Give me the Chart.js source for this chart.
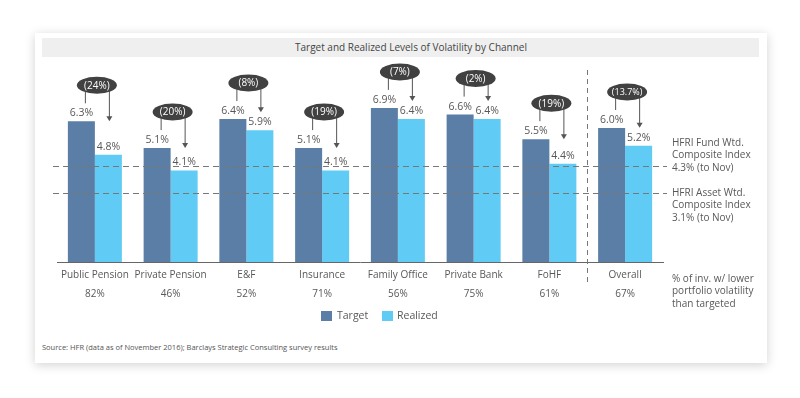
<!DOCTYPE html>
<html><head><meta charset="utf-8">
<script src="https://cdn.jsdelivr.net/npm/chart.js@4.4.1/dist/chart.umd.min.js"></script>
<style>
html,body{margin:0;padding:0;background:#fff;width:800px;height:398px;overflow:hidden;font-family:"Open Sans",sans-serif;}
#card{position:absolute;left:35px;top:33px;width:732px;height:330px;background:#fff;box-shadow:0 2px 10px rgba(0,0,0,0.18);}
#tbar{position:absolute;left:42px;top:38px;width:717px;height:19px;background:#efefef;}
#title{position:absolute;left:0;top:38px;width:822px;height:19px;line-height:19px;text-align:center;font-size:10px;color:#444;}
#src{position:absolute;left:42px;top:342px;font-size:7.5px;color:#555;}
#c{position:absolute;left:0;top:0;}
</style></head>
<body>
<div id="card"></div><div id="tbar"></div>
<div id="title">Target and Realized Levels of Volatility by Channel</div>
<div id="src">Source: HFR (data as of November 2016); Barclays Strategic Consulting survey results</div>
<canvas id="c" width="800" height="398"></canvas>
<script>
const categories = ["Public Pension","Private Pension","E&F","Insurance","Family Office","Private Bank","FoHF","Overall"];
const shareLower = ["82%","46%","52%","71%","56%","75%","61%","67%"];
const target = [6.3,5.1,6.4,5.1,6.9,6.6,5.5,6.0];
const realized = [4.8,4.1,5.9,4.1,6.4,6.4,4.4,5.2];
const changeLabels = ["(24%)","(20%)","(8%)","(19%)","(7%)","(2%)","(19%)","(13.7%)"];
const hfriFund = 4.3;
const hfriAsset = 3.1;

const FONT = '"Open Sans", sans-serif';
const TXT = '#585858';

const annot = {
  id:'annot',
  afterDatasetsDraw(chart){
    const ctx = chart.ctx, x = chart.scales.x, y = chart.scales.y;
    const m0 = chart.getDatasetMeta(0), m1 = chart.getDatasetMeta(1);
    ctx.save();
    // dashed horizontal lines
    ctx.strokeStyle = '#777'; ctx.lineWidth = 1.2; ctx.setLineDash([6,4]);
    [hfriFund, hfriAsset].forEach(v=>{
      const py = Math.round(y.getPixelForValue(v))+0.5;
      ctx.beginPath(); ctx.moveTo(53,py); ctx.lineTo(667,py); ctx.stroke();
    });
    // vertical separator
    const sx = Math.round((x.getPixelForValue(6)+x.getPixelForValue(7))/2)+0.5;
    ctx.setLineDash([5,4]); ctx.lineWidth=1;
    ctx.beginPath(); ctx.moveTo(sx,70); ctx.lineTo(sx,283); ctx.stroke();
    ctx.setLineDash([]);
    // value labels
    ctx.textAlign='center'; ctx.textBaseline='middle';
    for(let i=0;i<categories.length;i++){
      const b0 = m0.data[i], b1 = m1.data[i];
      ctx.font = '10.5px '+FONT; ctx.fillStyle = TXT;
      ctx.fillText(target[i].toFixed(1)+'%', b0.x, b0.y-8);
      ctx.fillText(realized[i].toFixed(1)+'%', b1.x, b1.y-8);
      const gc = x.getPixelForValue(i);
      const ey = b0.y - 36, ex = gc + 2;
      const lx = gc - 10, rx = gc + 14;
      // connector lines
      ctx.strokeStyle = '#555'; ctx.lineWidth = 1;
      ctx.beginPath(); ctx.moveTo(lx+0.5, ey); ctx.lineTo(lx+0.5, b0.y-18); ctx.stroke();
      const tip = Math.min(b0.y, b1.y-18);
      ctx.beginPath(); ctx.moveTo(rx+0.5, ey); ctx.lineTo(rx+0.5, tip-4); ctx.stroke();
      ctx.fillStyle = '#555';
      ctx.beginPath(); ctx.moveTo(rx+0.5-3, tip-5); ctx.lineTo(rx+0.5+3, tip-5); ctx.lineTo(rx+0.5, tip); ctx.closePath(); ctx.fill();
      // ellipse
      ctx.fillStyle = '#414141';
      ctx.beginPath(); ctx.ellipse(ex, ey, 20, 8.5, 0, 0, Math.PI*2); ctx.fill();
      ctx.fillStyle = '#fff'; ctx.font = (changeLabels[i].length>5?'9px ':'10px ')+FONT;
      ctx.fillText(changeLabels[i], ex, ey+0.5);
    }
    // right side notes
    ctx.fillStyle = TXT; ctx.textAlign='left'; ctx.font='10px '+FONT;
    const notes = [
      [["HFRI Fund Wtd.","Composite Index","4.3% (to Nov)"],143],
      [["HFRI Asset Wtd.","Composite Index","3.1% (to Nov)"],193],
      [["% of inv. w/ lower","portfolio volatility","than targeted"],279]
    ];
    notes.forEach(([lines,y0])=>lines.forEach((t,k)=>ctx.fillText(t,672,y0+k*12.5)));
    // legend
    ctx.font='10.5px '+FONT;
    ctx.fillStyle = '#5a7ea5'; ctx.fillRect(321,311,11,10);
    ctx.fillStyle = '#60cbf4'; ctx.fillRect(382,311,11,10);
    ctx.fillStyle = TXT; ctx.fillText('Target',337,316.5); ctx.fillText('Realized',397,316.5);
    ctx.restore();
  }
};

new Chart(document.getElementById('c'),{
  type:'bar',
  data:{labels:categories.map((c,i)=>[c,shareLower[i]]),
    datasets:[
      {label:'Target',data:target,backgroundColor:'#5a7ea5'},
      {label:'Realized',data:realized,backgroundColor:'#60cbf4'}
    ]},
  options:{
    responsive:false,animation:false,
    layout:{padding:{left:57,right:137,top:61,bottom:0}},
    categoryPercentage:0.713,barPercentage:1,
    plugins:{legend:{display:false},tooltip:{enabled:false}},
    scales:{
      y:{display:false,min:0,max:9},
      x:{grid:{display:false},border:{display:true,color:'#666',width:1},
        ticks:{color:TXT,font:{family:FONT,size:10,lineHeight:1.9},padding:-4,maxRotation:0,autoSkip:false},
        afterFit(s){s.height=136;}}
    }
  },
  plugins:[annot]
});
</script>
</body></html>
